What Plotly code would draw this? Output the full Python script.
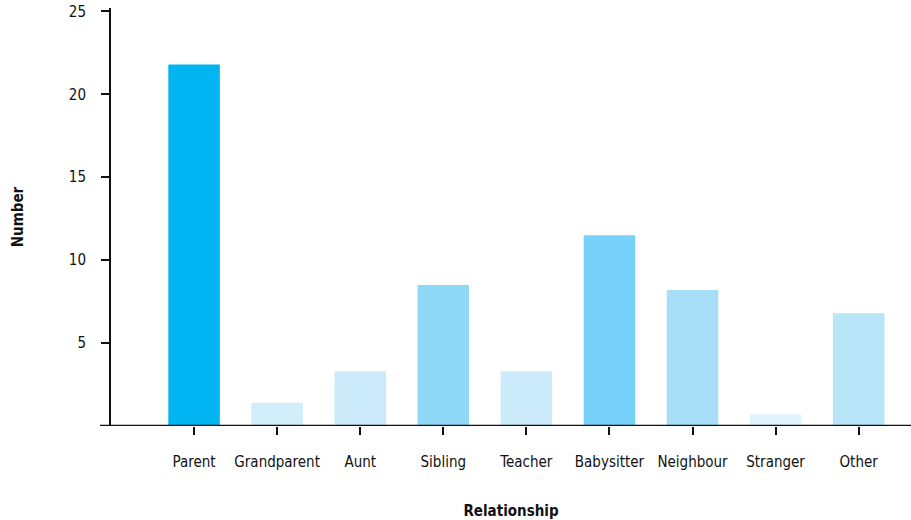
import plotly.graph_objects as go

categories = ["Parent", "Grandparent", "Aunt", "Sibling", "Teacher",
              "Babysitter", "Neighbour", "Stranger", "Other"]
values = [21.8, 1.4, 3.3, 8.5, 3.3, 11.5, 8.2, 0.7, 6.8]
colors = ["#00B5F1", "#D3EEFB", "#CCEBFA", "#8FD9F7", "#CCEBFA",
          "#77D1F8", "#A7DFF8", "#E0F3FC", "#B8E5F8"]
y_ticks = [5, 10, 15, 20, 25]

FONT = "DejaVu Sans Condensed, Roboto, sans-serif"

fig = go.Figure(go.Bar(x=categories, y=values, marker=dict(color=colors, line=dict(width=0)),
                       width=0.62))

fig.update_layout(
    width=911, height=520,
    margin=dict(l=111, r=0, t=8, b=94, autoexpand=False),
    plot_bgcolor="white", paper_bgcolor="white",
    font=dict(family=FONT, size=15, color="#111111"),
    showlegend=False,
)
fig.update_xaxes(
    type="category", range=[-1, 8.63], automargin=False,
    showline=False, showgrid=False, zeroline=False,
    ticks="outside", ticklen=8, tickwidth=2, tickcolor="#111111",
    ticklabelstandoff=14,
    title=dict(text="<b>Relationship</b>", standoff=36, font=dict(family=FONT, size=15)),
)
fig.update_yaxes(
    range=[0, 25.2], tickvals=y_ticks, automargin=False,
    showline=True, linewidth=2, linecolor="#111111",
    showgrid=False, zeroline=False,
    ticks="outside", ticklen=8, tickwidth=2, tickcolor="#111111",
    ticklabelstandoff=12,
    title=dict(text="<b>Number</b>", standoff=42, font=dict(family=FONT, size=15)),
)
fig.add_shape(type="line", xref="paper", yref="y", x0=-11/800, x1=1, y0=0, y1=0,
              line=dict(color="#111111", width=2.5))

fig.write_html("out.html", config={"displayModeBar": False},
               post_script="document.body.style.margin='0';document.body.style.padding='0';")
